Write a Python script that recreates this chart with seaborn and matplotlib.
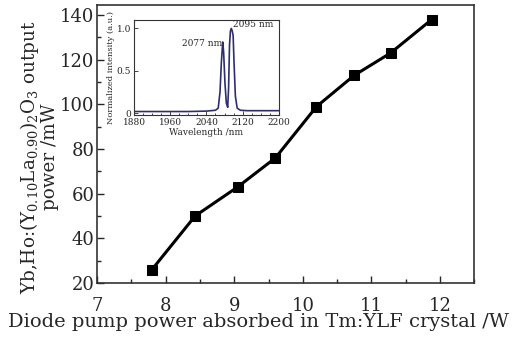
import matplotlib
matplotlib.use("Agg")
import matplotlib.pyplot as plt
import seaborn as sns
import pandas as pd
from matplotlib.ticker import MultipleLocator

# Main data
pump_power = [7.8, 8.43, 9.05, 9.6, 10.2, 10.75, 11.28, 11.88]
output_power = [26, 50, 63, 76, 99, 113, 123, 138]

# Inset spectrum
wavelength = [1880, 1920, 1960, 2000, 2040, 2060, 2066, 2070, 2073, 2076, 2078, 2081,
              2084, 2087, 2089, 2091, 2093, 2095, 2097, 2099, 2101, 2104, 2108, 2115,
              2130, 2160, 2200]
intensity = [0.02, 0.02, 0.02, 0.02, 0.025, 0.035, 0.06, 0.25, 0.6, 0.84, 0.72, 0.35,
             0.12, 0.07, 0.3, 0.8, 0.97, 1.0, 0.97, 0.92, 0.6, 0.2, 0.06, 0.035,
             0.03, 0.03, 0.03]
inset_xticks = [1880, 1960, 2040, 2120, 2200]

sns.set_style("ticks")
plt.rcParams['font.family'] = ['DejaVu Serif']
plt.rcParams['mathtext.fontset'] = 'dejavuserif'

fig = plt.figure(figsize=(5.28, 3.38), dpi=100)
ax = fig.add_axes([0.184, 0.163, 0.714, 0.822])

df = pd.DataFrame({"x": pump_power, "y": output_power})
sns.lineplot(data=df, x="x", y="y", ax=ax, color="black", linewidth=2.2,
             marker="s", markersize=7, markeredgecolor="black", markerfacecolor="black")
ax.set_xlim(7, 12.5)
ax.set_ylim(20, 144.5)
ax.xaxis.set_major_locator(MultipleLocator(1))
ax.xaxis.set_minor_locator(MultipleLocator(0.5))
ax.yaxis.set_major_locator(MultipleLocator(20))
ax.yaxis.set_minor_locator(MultipleLocator(10))
ax.tick_params(which='both', direction='in', labelsize=13, width=1)
ax.tick_params(which='major', length=5)
ax.tick_params(which='minor', length=3)
ax.tick_params(axis='x', pad=10)
ax.tick_params(axis='y', pad=2)
for s in ax.spines.values():
    s.set_linewidth(1.2)
    s.set_color('#333333')
ax.set_xlabel("Diode pump power absorbed in Tm:YLF crystal /W", fontsize=14, labelpad=0)
ax.xaxis.set_label_coords(0.427, -0.11)
ax.set_ylabel("Yb,Ho:(Y$_{0.10}$La$_{0.90}$)$_2$O$_3$ output\npower /mW", fontsize=13.2,
              linespacing=1.0)
ax.yaxis.set_label_coords(-0.1, 0.453)

# Inset
axi = fig.add_axes([0.254, 0.66, 0.274, 0.281])
dfi = pd.DataFrame({"w": wavelength, "i": intensity})
sns.lineplot(data=dfi, x="w", y="i", ax=axi, color="#2e2e6e", linewidth=1.2)
axi.set_xlim(1880, 2200)
axi.set_ylim(-0.02, 1.1)
axi.set_xticks(inset_xticks)
axi.xaxis.set_minor_locator(MultipleLocator(20))
axi.set_yticks([0, 0.5, 1.0])
axi.set_yticklabels(["0", "0.5", "1.0"])
axi.tick_params(which='both', direction='in', labelsize=6.5, width=0.6, pad=2)
axi.tick_params(which='major', length=3)
axi.tick_params(which='minor', length=1.5)
for s in axi.spines.values():
    s.set_linewidth(0.8)
    s.set_color('#333333')
axi.set_xlabel("Wavelength /nm", fontsize=6.5, labelpad=1)
axi.set_ylabel("Normalized intensity (a.u.)", fontsize=6, labelpad=1)
axi.text(2077 - 1, 0.82, "2077 nm", fontsize=6.5, ha='right', va='center')
axi.text(2098, 0.99, "2095 nm", fontsize=6.5, ha='left', va='bottom')

fig.savefig("out.png", dpi=100)
